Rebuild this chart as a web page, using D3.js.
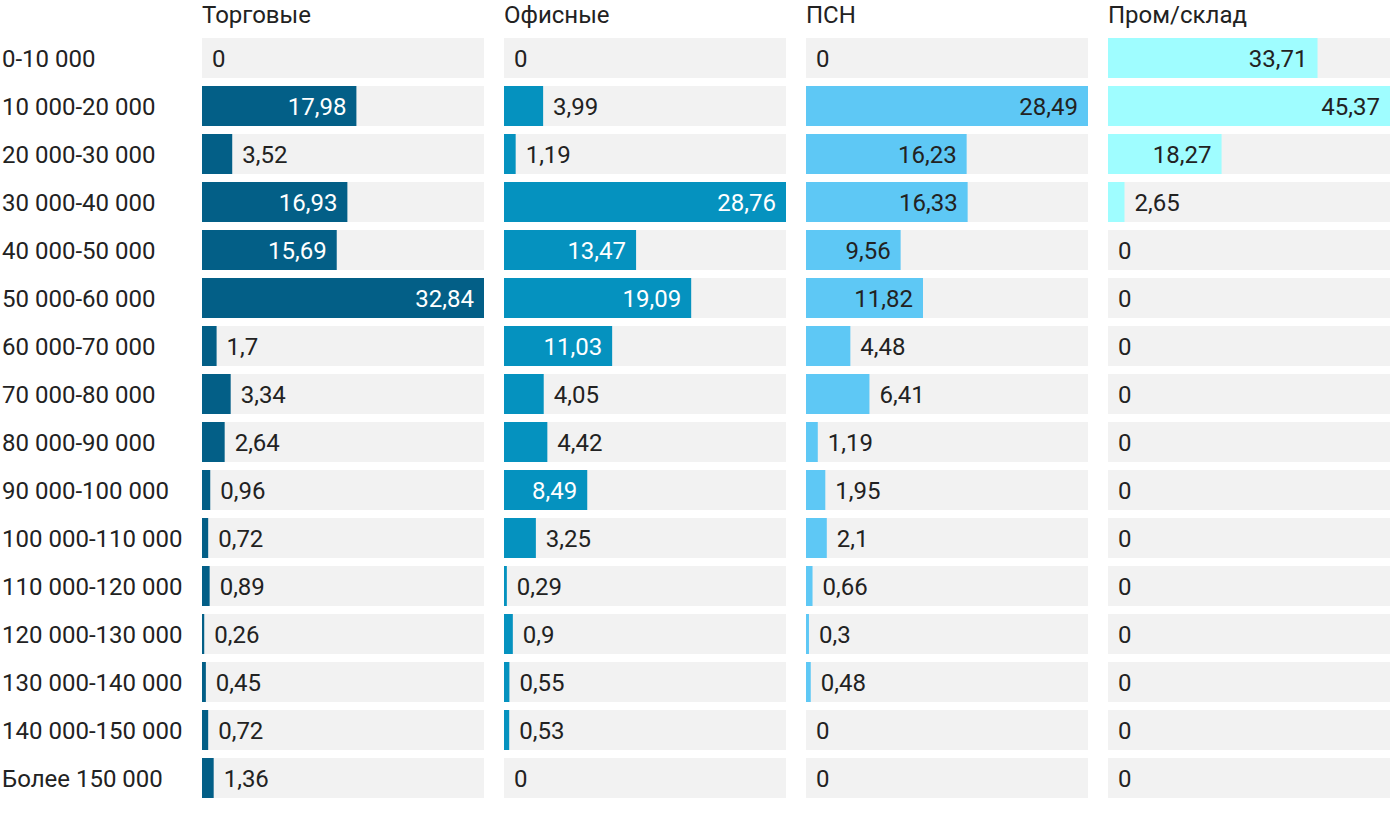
<!DOCTYPE html>
<html lang="ru">
<head>
    <meta charset="UTF-8">
    <title>Распределение по ставкам</title>
    <script src="https://d3js.org/d3.v7.min.js"></script>
    <style>
        body { margin: 0; background: #fff; font-family: Roboto, "Noto Sans", Arial, sans-serif; }
        text { font-family: Roboto, "Noto Sans", Arial, sans-serif; }
    </style>
</head>
<body>
    <svg id="chart" width="1400" height="814"></svg>
    <script>
        // Категории (диапазоны ставок)
        const categories = [
            "0-10 000", "10 000-20 000", "20 000-30 000", "30 000-40 000",
            "40 000-50 000", "50 000-60 000", "60 000-70 000", "70 000-80 000",
            "80 000-90 000", "90 000-100 000", "100 000-110 000", "110 000-120 000",
            "120 000-130 000", "130 000-140 000", "140 000-150 000", "Более 150 000"
        ];

        const seriesNames = ["Торговые", "Офисные", "ПСН", "Пром/склад"];

        const retail = [0, 17.98, 3.52, 16.93, 15.69, 32.84, 1.7, 3.34, 2.64, 0.96, 0.72, 0.89, 0.26, 0.45, 0.72, 1.36];
        const office = [0, 3.99, 1.19, 28.76, 13.47, 19.09, 11.03, 4.05, 4.42, 8.49, 3.25, 0.29, 0.9, 0.55, 0.53, 0];
        const psn = [0, 28.49, 16.23, 16.33, 9.56, 11.82, 4.48, 6.41, 1.19, 1.95, 2.1, 0.66, 0.3, 0.48, 0, 0];
        const industrial = [33.71, 45.37, 18.27, 2.65, 0, 0, 0, 0, 0, 0, 0, 0, 0, 0, 0, 0];

        const series = [retail, office, psn, industrial];
        const colors = ["#035f87", "#0592bf", "#5ec8f5", "#9ffdff"];
        const labelInside = ["#ffffff", "#ffffff", "#222222", "#222222"];

        const svg = d3.select("#chart");

        const panelX = [202, 504, 806, 1108];
        const panelW = 282;
        const fontSize = 24;

        const y = d3.scaleBand()
            .domain(categories)
            .range([34, 34 + 48 * categories.length])
            .paddingInner(8 / 48)
            .paddingOuter(4 / 48);

        const fmt = v => String(v).replace(".", ",");

        // Подписи категорий
        svg.append("g")
            .selectAll("text")
            .data(categories)
            .join("text")
            .attr("x", 2)
            .attr("y", d => y(d) + y.bandwidth() / 2 + 8.5)
            .attr("font-size", fontSize)
            .attr("fill", "#222")
            .text(d => d);

        series.forEach((vals, si) => {
            const x = d3.scaleLinear()
                .domain([0, d3.max(vals)])
                .range([panelX[si], panelX[si] + panelW]);

            const g = svg.append("g");

            g.append("text")
                .attr("x", panelX[si])
                .attr("y", 22.5)
                .attr("font-size", fontSize)
                .attr("fill", "#222")
                .text(seriesNames[si]);

            const rows = vals.map((v, i) => ({ v, cat: categories[i] }));

            g.selectAll(".bg")
                .data(rows)
                .join("rect")
                .attr("x", panelX[si])
                .attr("y", d => y(d.cat))
                .attr("width", panelW)
                .attr("height", y.bandwidth())
                .attr("fill", "#f2f2f2");

            g.selectAll(".bar")
                .data(rows)
                .join("rect")
                .attr("x", x(0))
                .attr("y", d => y(d.cat))
                .attr("width", d => x(d.v) - x(0))
                .attr("height", y.bandwidth())
                .attr("fill", colors[si]);

            g.selectAll(".val")
                .data(rows)
                .join("text")
                .attr("font-size", fontSize)
                .attr("y", d => y(d.cat) + y.bandwidth() / 2 + 8.5)
                .each(function (d) {
                    const w = x(d.v) - x(0);
                    const el = d3.select(this);
                    if (w > 72) {
                        el.attr("x", x(d.v) - 10)
                            .attr("text-anchor", "end")
                            .attr("fill", labelInside[si]);
                    } else {
                        el.attr("x", x(d.v) + 10)
                            .attr("text-anchor", "start")
                            .attr("fill", "#222");
                    }
                })
                .text(d => fmt(d.v));
        });
    </script>
</body>
</html>
